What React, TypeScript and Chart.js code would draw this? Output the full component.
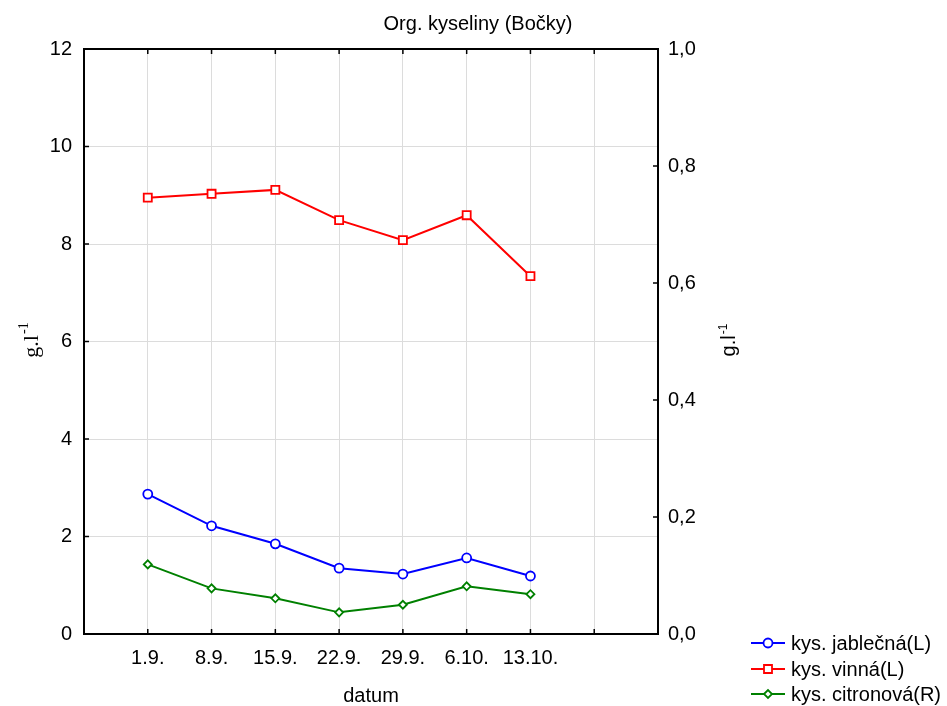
import React, { useEffect, useRef } from 'react';
import { Chart, registerables } from 'chart.js';

Chart.register(...registerables);

const chartTitle = 'Org. kyseliny (Bočky)';
const xAxisTitle = 'datum';
const yAxisTitleBase = 'g.l';
const yAxisTitleSup = '-1';

const dates = ['1.9.', '8.9.', '15.9.', '22.9.', '29.9.', '6.10.', '13.10.'];
const jablecna = [2.87, 2.22, 1.85, 1.35, 1.23, 1.56, 1.19];
const vinna = [8.95, 9.03, 9.11, 8.49, 8.08, 8.59, 7.34];
const citronova = [0.119, 0.078, 0.061, 0.037, 0.05, 0.0815, 0.068];

const leftTicks = [0, 2, 4, 6, 8, 10, 12];
const rightTicks = [0, 0.2, 0.4, 0.6, 0.8, 1.0];

const seriesNames = ['kys. jablečná(L)', 'kys. vinná(L)', 'kys. citronová(R)'];
const seriesColors = ['#0000ff', '#ff0000', '#008000'];

const SANS = "'Liberation Sans', Arial, sans-serif";
const SERIF = "'Liberation Serif', 'Times New Roman', serif";

const labels = ['', ...dates, '', ''];
const pad = (arr: number[]) => [null, ...arr, null, null];

function drawMarker(ctx: CanvasRenderingContext2D, style: string, x: number, y: number, color: string) {
  ctx.save();
  ctx.strokeStyle = color;
  ctx.fillStyle = '#fff';
  ctx.lineWidth = 1.8;
  ctx.beginPath();
  if (style === 'circle') {
    ctx.arc(x, y, 4.5, 0, Math.PI * 2);
  } else if (style === 'rect') {
    const s = 4;
    ctx.rect(x - s, y - s, 2 * s, 2 * s);
  } else {
    const r = 4;
    ctx.moveTo(x - r, y);
    ctx.lineTo(x, y - r);
    ctx.lineTo(x + r, y);
    ctx.lineTo(x, y + r);
    ctx.closePath();
  }
  ctx.fill();
  ctx.stroke();
  ctx.restore();
}

const decorPlugin = {
  id: 'decor',
  afterDraw(chart: any) {
    const ctx: CanvasRenderingContext2D = chart.ctx;
    const ca = chart.chartArea;
    const xs = chart.scales.x;
    const ys = chart.scales.y;
    const ys1 = chart.scales.y1;
    ctx.save();
    // frame
    ctx.strokeStyle = '#000';
    ctx.lineWidth = 2;
    ctx.strokeRect(ca.left, ca.top, ca.right - ca.left, ca.bottom - ca.top);
    // inward ticks
    ctx.lineWidth = 1.5;
    const line = (x1: number, y1: number, x2: number, y2: number) => {
      ctx.beginPath();
      ctx.moveTo(x1, y1);
      ctx.lineTo(x2, y2);
      ctx.stroke();
    };
    for (let i = 1; i <= dates.length + 1; i++) {
      const px = xs.getPixelForValue(i);
      line(px, ca.bottom, px, ca.bottom - 5);
      line(px, ca.top, px, ca.top + 5);
    }
    leftTicks.forEach((v) => {
      const py = ys.getPixelForValue(v);
      line(ca.left, py, ca.left + 5, py);
    });
    rightTicks.forEach((v) => {
      const py = ys1.getPixelForValue(v);
      line(ca.right, py, ca.right - 5, py);
    });

    ctx.fillStyle = '#000';
    // main title
    ctx.font = `20px ${SANS}`;
    ctx.textAlign = 'center';
    ctx.textBaseline = 'alphabetic';
    ctx.fillText(chartTitle, 478, 30);
    // x title
    ctx.fillText(xAxisTitle, (ca.left + ca.right) / 2, 702);

    // y titles (rotated)
    const drawYTitle = (cx: number, cy: number, family: string, size: number) => {
      ctx.save();
      ctx.translate(cx, cy);
      ctx.rotate(-Math.PI / 2);
      ctx.textAlign = 'left';
      ctx.textBaseline = 'alphabetic';
      ctx.font = `${size}px ${family}`;
      const w1 = ctx.measureText(yAxisTitleBase).width;
      ctx.font = `${Math.round(size * 0.62)}px ${family}`;
      const w2 = ctx.measureText(yAxisTitleSup).width;
      const total = w1 + w2 + 1;
      const start = -total / 2;
      ctx.font = `${size}px ${family}`;
      ctx.fillText(yAxisTitleBase, start, size * 0.35);
      ctx.font = `${Math.round(size * 0.62)}px ${family}`;
      ctx.fillText(yAxisTitleSup, start + w1 + 1, size * 0.35 - size * 0.42);
      ctx.restore();
    };
    drawYTitle(30, 340, SERIF, 22);
    drawYTitle(728, 340, SANS, 20);

    // legend
    const styles = ['circle', 'rect', 'diamond'];
    const rowY = [643, 669, 694];
    ctx.font = `20px ${SANS}`;
    ctx.textAlign = 'left';
    ctx.textBaseline = 'middle';
    seriesNames.forEach((name, i) => {
      ctx.strokeStyle = seriesColors[i];
      ctx.lineWidth = 2;
      line(751, rowY[i], 785, rowY[i]);
      drawMarker(ctx, styles[i], 768, rowY[i], seriesColors[i]);
      ctx.fillStyle = '#000';
      ctx.fillText(name, 791, rowY[i] + 1);
    });
    ctx.restore();
  },
};

export default function App() {
  const ref = useRef<HTMLCanvasElement | null>(null);
  useEffect(() => {
    document.body.style.margin = '0';
    const canvas = ref.current;
    if (!canvas) return;
    Chart.defaults.font.family = SANS;
    Chart.defaults.color = '#000';
    const tickFont = { size: 20, family: SANS };
    const chart = new Chart(canvas, {
      type: 'line',
      data: {
        labels,
        datasets: [
          {
            label: seriesNames[0],
            data: pad(jablecna),
            borderColor: seriesColors[0],
            backgroundColor: '#fff',
            borderWidth: 2,
            pointStyle: 'circle',
            pointRadius: 4.5,
            pointBorderWidth: 1.8,
            yAxisID: 'y',
          },
          {
            label: seriesNames[1],
            data: pad(vinna),
            borderColor: seriesColors[1],
            backgroundColor: '#fff',
            borderWidth: 2,
            pointStyle: 'rect',
            pointRadius: 5.7,
            pointBorderWidth: 1.8,
            yAxisID: 'y',
          },
          {
            label: seriesNames[2],
            data: pad(citronova),
            borderColor: seriesColors[2],
            backgroundColor: '#fff',
            borderWidth: 2,
            pointStyle: 'rectRot',
            pointRadius: 4,
            pointBorderWidth: 1.8,
            yAxisID: 'y1',
          },
        ],
      } as any,
      options: {
        animation: false,
        responsive: false,
        devicePixelRatio: 1,
        layout: { padding: { top: 49, left: 0, right: 0, bottom: 0 } },
        plugins: {
          legend: { display: false },
          title: { display: false },
          tooltip: { enabled: false },
        },
        scales: {
          x: {
            type: 'category',
            offset: false,
            grid: { color: '#dcdcdc', lineWidth: 1, drawTicks: false },
            border: { display: false },
            ticks: { autoSkip: false, maxRotation: 0, minRotation: 0, padding: 12, color: '#000', font: tickFont },
            afterFit: (s: any) => {
              s.height = 72;
            },
          },
          y: {
            position: 'left',
            min: 0,
            max: 12,
            grid: { color: '#dcdcdc', lineWidth: 1, drawTicks: false },
            border: { display: false },
            ticks: { stepSize: 2, padding: 12, color: '#000', font: tickFont },
            afterFit: (s: any) => {
              s.width = 84;
            },
          },
          y1: {
            position: 'right',
            min: 0,
            max: 1,
            grid: { display: false, drawTicks: false },
            border: { display: false },
            ticks: {
              stepSize: 0.2,
              padding: 10,
              color: '#000',
              font: tickFont,
              callback: (v: any) => Number(v).toFixed(1).replace('.', ','),
            },
            afterFit: (s: any) => {
              s.width = 289;
            },
          },
        },
      } as any,
      plugins: [decorPlugin],
    });
    return () => chart.destroy();
  }, []);
  return <canvas ref={ref} width={947} height={706} style={{ display: 'block', width: 947, height: 706 }} />;
}
